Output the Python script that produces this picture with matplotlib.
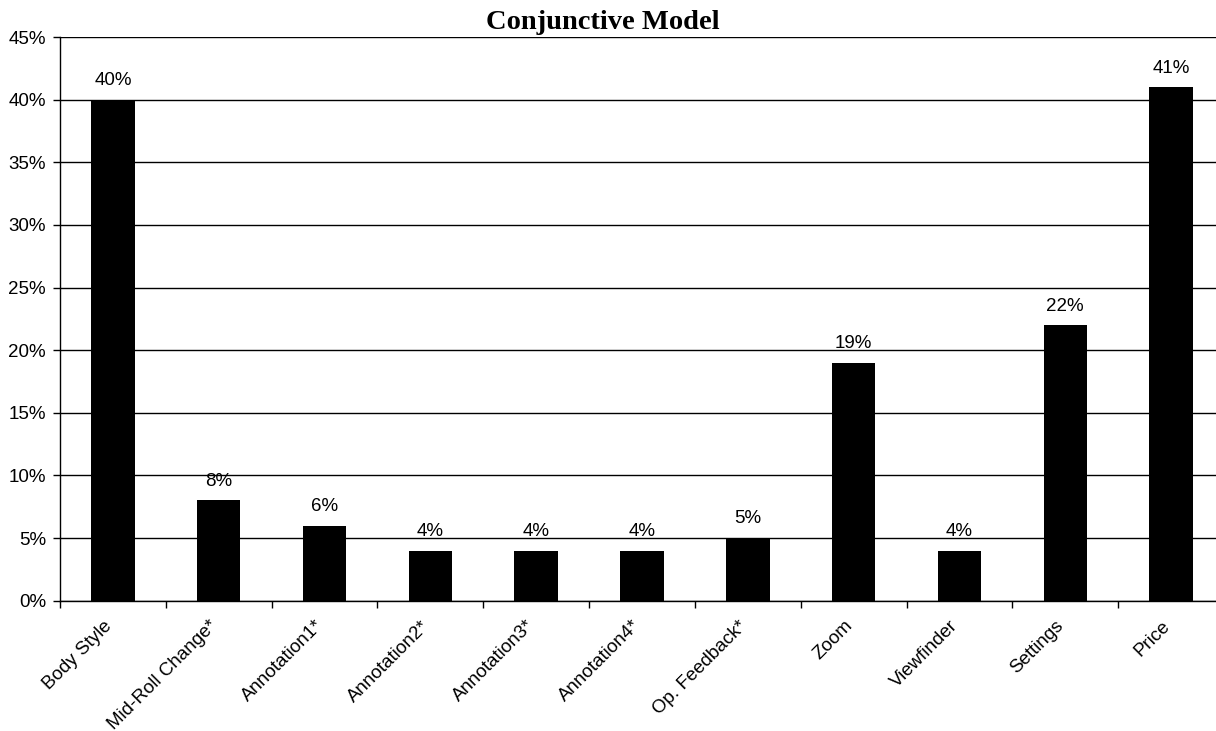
import matplotlib.pyplot as plt
import numpy as np
from matplotlib.ticker import FuncFormatter, MultipleLocator
from matplotlib.transforms import ScaledTranslation

categories = ['Body Style', 'Mid-Roll Change*', 'Annotation1*', 'Annotation2*',
              'Annotation3*', 'Annotation4*', 'Op. Feedback*', 'Zoom',
              'Viewfinder', 'Settings', 'Price']
values = [40, 8, 6, 4, 4, 4, 5, 19, 4, 22, 41]

plt.rcParams['font.family'] = ['Liberation Sans', 'DejaVu Sans']
fs = 13.5

fig = plt.figure(figsize=(12.16, 7.31), dpi=100)
# axes runs a little past the right edge, like the cropped original
ax = fig.add_axes([60 / 1216, 130.3 / 731, 1164 / 1216, 563.7 / 731])

x = np.arange(len(categories))
ax.bar(x, values, width=0.41, color='black', zorder=3)

for xi, v in zip(x, values):
    ax.annotate(f'{v}%', (xi, v), xytext=(0, 10.5), textcoords='offset points',
                ha='center', va='baseline', fontsize=fs)

ax.set_xlim(-0.5, len(categories) - 0.5)
ax.set_ylim(0, 45)
ax.yaxis.set_major_locator(MultipleLocator(5))
ax.yaxis.set_major_formatter(FuncFormatter(lambda v, p: f'{v:.0f}%'))
ax.grid(axis='y', color='black', linewidth=1.0, zorder=0)

ax.set_xticks(x)
ax.set_xticklabels(categories, rotation=45, ha='right', rotation_mode='anchor', fontsize=fs)
ax.tick_params(axis='x', length=0, pad=12)
shift = ScaledTranslation(-10 / 100, 0, fig.dpi_scale_trans)
for lab in ax.get_xticklabels():
    lab.set_transform(lab.get_transform() + shift)
ax.set_xticks(np.arange(len(categories)) - 0.5, minor=True)
ax.tick_params(axis='x', which='minor', length=5, width=1, direction='out')
ax.tick_params(axis='y', length=5, width=1, direction='out', labelsize=fs, pad=5)

for s in ['top', 'right']:
    ax.spines[s].set_visible(False)
ax.spines['left'].set_linewidth(1.0)
ax.spines['bottom'].set_linewidth(1.0)

fig.text(603 / 1216, 1 - 29 / 731, 'Conjunctive Model', ha='center', va='baseline',
         fontsize=20.5, fontweight='bold', family=['Liberation Serif', 'DejaVu Serif'])

fig.savefig('out.png', dpi=100)
